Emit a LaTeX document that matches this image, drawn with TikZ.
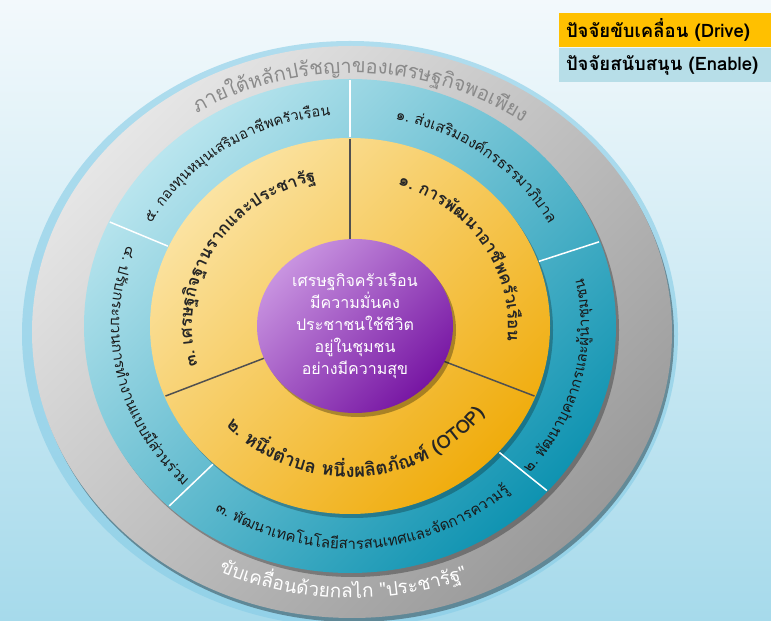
\documentclass[tikz,border=0pt]{standalone}
\usepackage{fontspec}
\newfontfamily\thaifont[Script=Thai]{Loma}
\usetikzlibrary{decorations.text}

\definecolor{drivegold}{HTML}{FFC000}
\definecolor{enableblue}{HTML}{B7DEE8}
\definecolor{bgtop}{HTML}{F3F9FC}
\definecolor{bgbot}{HTML}{A6DAEB}
\definecolor{halo}{HTML}{86CCE6}
\definecolor{graylt}{HTML}{E6E6E6}
\definecolor{graydk}{HTML}{9A9A9A}
\definecolor{bluelt}{HTML}{B9E5EE}
\definecolor{bluedk}{HTML}{0F93B1}
\definecolor{yellowlt}{HTML}{FBE3A2}
\definecolor{yellowdk}{HTML}{F0AC0C}
\definecolor{purplelt}{HTML}{C893E0}
\definecolor{purpledk}{HTML}{7716A3}
\definecolor{graytext}{HTML}{8A8A8A}
\definecolor{seamgray}{HTML}{505050}

\begin{document}
\begin{tikzpicture}[x=1pt, y=1pt,
  ringtext/.style={decorate, decoration={text along path, text align=center, text={#1}}},
  legend/.style={minimum width=212pt, minimum height=34pt, text width=198pt, align=left,
    inner sep=0pt, font=\thaifont\bfseries\fontsize{18.5}{18.5}\selectfont}]
\useasboundingbox (0,0) rectangle (771,621);
\shade[top color=bgtop, bottom color=bgbot] (0,0) rectangle (771,621);

% legend
\node[legend, fill=drivegold] (drive) at (665,591) {ปัจจัยขับเคลื่อน (Drive)};
\node[legend, fill=enableblue] (enable) at (665,556) {ปัจจัยสนับสนุน (Enable)};

\begin{scope}[shift={(350,295)}]
% rings
\fill[halo, opacity=.6] (0,-8) ellipse [x radius=328, y radius=293];
\fill[black, opacity=.35] (4,-10) ellipse [x radius=320, y radius=286];
\shade[top color=graylt, bottom color=graydk, shading angle=45] (2,-6) ellipse [x radius=320, y radius=286];
\fill[black, opacity=.3] (3,-4) ellipse [x radius=266, y radius=247];
\shade[top color=bluelt, bottom color=bluedk, shading angle=45] (0,0) ellipse [x radius=266, y radius=247];
\fill[black, opacity=.25] (3,-4) ellipse [x radius=200, y radius=188];
\shade[top color=yellowlt, bottom color=yellowdk, shading angle=45] (0,0) ellipse [x radius=200, y radius=188];

\foreach \a in {90,20,-42,-133,155}
  \draw[white, line width=1.5pt] (\a:201 and 189) -- (\a:265 and 246);
\foreach \a in {90,-22,202}
  \draw[seamgray, line width=1.5pt] (\a:60 and 55) -- (\a:199 and 187);

\fill[black, opacity=.3] (8,-4) ellipse [x radius=98, y radius=87];
\shade[top color=purplelt, bottom color=purpledk, shading angle=45] (5,0) ellipse [x radius=98, y radius=87];
\node[text=white, align=center, font=\thaifont\fontsize{16}{22}\selectfont] (goal) at (5,0)
  {เศรษฐกิจครัวเรือน\\มีความมั่นคง\\ประชาชนใช้ชีวิต\\อยู่ในชุมชน\\อย่างมีความสุข};

% yellow ring
\path[ringtext={|\thaifont\bfseries\fontsize{17}{17}\selectfont\color{black!85}|๑. การ{พั}ฒนาอา{ชี}พค{รั}วเ{รื}อน}]
  (102.5:158 and 148) arc[start angle=102.5, end angle=-37.5, x radius=158, y radius=148];
\path[ringtext={|\thaifont\bfseries\fontsize{17}{17}\selectfont\color{black!85}|๓. เศรษฐ{กิ}จฐานรากและประชา{รั}ฐ}]
  (219.5:158 and 148) arc[start angle=219.5, end angle=79.5, x radius=158, y radius=148];
\path[ringtext={|\thaifont\bfseries\fontsize{18.5}{18.5}\selectfont\color{black!85}|๒. ห{นึ่}ง{ตำ}บล ห{นึ่}งผ{ลิ}ต{ภั}ณ{ฑ์} (OTOP)}]
  (198:165 and 151) arc[start angle=198, end angle=348, x radius=165, y radius=151];

% blue ring
\path[ringtext={|\thaifont\fontsize{15}{15}\selectfont\color{black!90}|๑. {ส่}งเส{ริ}มอง{ค์}กรธรรมา{ภิ}บาล}]
  (112.5:227 and 211) arc[start angle=112.5, end angle=-7.5, x radius=227, y radius=211];
\path[ringtext={|\thaifont\fontsize{15}{15}\selectfont\color{black!90}|๒. {พั}ฒนา{บุ}คลากรและ{ผู้}{นำ}{ชุ}มชน}]
  (-74:239 and 223) arc[start angle=-74, end angle=46, x radius=239, y radius=223];
\path[ringtext={|\thaifont\fontsize{15}{15}\selectfont\color{black!90}|๓. {พั}ฒนาเทคโนโล{ยี}สารสนเทศและ{จั}ดการความ{รู้}}]
  (204:239 and 223) arc[start angle=204, end angle=344, x radius=239, y radius=223];
\path[ringtext={|\thaifont\fontsize{15}{15}\selectfont\color{black!90}|๔. ป{รั}บกระบวนการ{ทำ}งานแบบ{มี}{ส่}วน{ร่}วม}]
  (132:239 and 223) arc[start angle=132, end angle=252, x radius=239, y radius=223];
\path[ringtext={|\thaifont\fontsize{14.5}{14.5}\selectfont\color{black!90}|๕. กอง{ทุ}นห{มุ}นเส{ริ}มอา{ชี}พค{รั}วเ{รื}อน}]
  (184:227 and 211) arc[start angle=184, end angle=64, x radius=227, y radius=211];

% gray ring
\begin{scope}[shift={(2,-6)}]
\path[ringtext={|\thaifont\fontsize{20}{20}\selectfont\color{graytext}|ภายใ{ต้}ห{ลั}กป{รั}ชญาของเศรษฐ{กิ}จพอเ{พี}ยง}]
  (168:290 and 259) arc[start angle=168, end angle=8, x radius=290, y radius=259];
\path[ringtext={|\thaifont\fontsize{19}{19}\selectfont\color{white}|{ขั}บเค{ลื่}อน{ด้}วยกลไก "ประชา{รั}ฐ"}]
  (188:306 and 266) arc[start angle=188, end angle=348, x radius=306, y radius=266];
\end{scope}
\end{scope}
\end{tikzpicture}
\end{document}
